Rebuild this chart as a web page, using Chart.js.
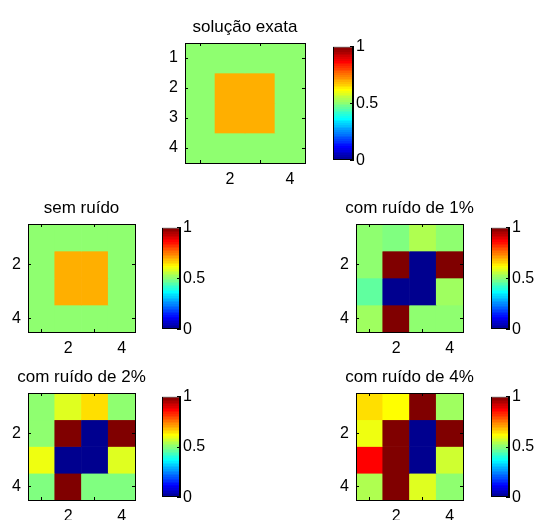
<!DOCTYPE html>
<html>
<head>
<meta charset="utf-8">
<script src="https://cdn.jsdelivr.net/npm/chart.js@4.4.1/dist/chart.umd.min.js"></script>
<style>
  html, body { margin: 0; padding: 0; background: #fff; overflow: hidden; }
  #fig { position: relative; width: 535px; height: 520px; background: #fff; }
  #fig canvas { position: absolute; }
</style>
</head>
<body>
<div id="fig"></div>
<script>
// ---- data: 4x4 conductivity maps, row 1 at the top ----
const titles = ['solução exata', 'sem ruído', 'com ruído de 1%', 'com ruído de 2%', 'com ruído de 4%'];

const solucaoExata = [
  [0.5, 0.5, 0.5, 0.5],
  [0.5, 0.7, 0.7, 0.5],
  [0.5, 0.7, 0.7, 0.5],
  [0.5, 0.5, 0.5, 0.5]
];
const semRuido = [
  [0.5, 0.5, 0.5, 0.5],
  [0.5, 0.7, 0.7, 0.5],
  [0.5, 0.7, 0.7, 0.5],
  [0.5, 0.5, 0.5, 0.5]
];
const ruido1 = [
  [0.51, 0.49, 0.54, 0.51],
  [0.51, 1.0, 0.0, 1.0],
  [0.46, 0.0, 0.0, 0.52],
  [0.53, 1.0, 0.50, 0.50]
];
const ruido2 = [
  [0.50, 0.59, 0.65, 0.50],
  [0.50, 1.0, 0.0, 1.0],
  [0.60, 0.0, 0.0, 0.58],
  [0.49, 1.0, 0.49, 0.49]
];
const ruido4 = [
  [0.65, 0.61, 1.0, 0.52],
  [0.60, 1.0, 0.0, 1.0],
  [0.87, 1.0, 0.0, 0.57],
  [0.54, 1.0, 0.58, 0.50]
];

const xTicks = [2, 4];
const yTicksTop = [1, 2, 3, 4];
const yTicks = [2, 4];
const cbTicks = [0, 0.5, 1];
const cLim = [0, 1];

// ---- jet colormap, 64 levels ----
function jetRGB(i) {
  const r = i <= 24 ? 0 : i <= 40 ? (i - 24) / 16 : i <= 56 ? 1 : 1 - (i - 56) / 16;
  const g = i <= 8 ? 0 : i <= 24 ? (i - 8) / 16 : i <= 40 ? 1 : i <= 56 ? 1 - (i - 40) / 16 : 0;
  const b = i <= 8 ? 0.5 + i / 16 : i <= 24 ? 1 : i <= 40 ? 1 - (i - 24) / 16 : 0;
  return `rgb(${Math.round(r * 255)},${Math.round(g * 255)},${Math.round(b * 255)})`;
}
function jetColor(v) {
  const t = (v - cLim[0]) / (cLim[1] - cLim[0]);
  const i = Math.max(1, Math.min(64, Math.floor(t * 64) + 1));
  return jetRGB(i);
}
function jetGradient(ctx) {
  const area = ctx.chart.chartArea;
  if (!area) return '#000';
  const g = ctx.chart.ctx.createLinearGradient(0, area.bottom, 0, area.top);
  for (let i = 1; i <= 64; i++) {
    const c = jetRGB(i);
    g.addColorStop((i - 1) / 64, c);
    g.addColorStop(i / 64, c);
  }
  return g;
}

Chart.defaults.font.family = '"Liberation Sans", Arial, Helvetica, sans-serif';
Chart.defaults.font.size = 16;
Chart.defaults.color = '#000';

const fig = document.getElementById('fig');
function addCanvas(x, y, w, h) {
  const c = document.createElement('canvas');
  c.width = w; c.height = h;
  c.style.left = x + 'px'; c.style.top = y + 'px';
  c.style.width = w + 'px'; c.style.height = h + 'px';
  fig.appendChild(c);
  return c;
}
const fixedTicks = vals => scale => { scale.ticks = vals.map(v => ({ value: v })); };
const frame = () => ({
  border: { display: true, color: '#000', width: 1, z: 1 },
  grid: { display: true, drawOnChartArea: false, drawTicks: true, tickLength: -3, color: '#000', z: 1 }
});

// image-like map: one floating bar per cell
function heatmap(grid, title, rowTicks, box) {
  const padL = 34, padR = 34, padT = 34, padB = 26;
  const cv = addCanvas(box.x - padL, box.y - padT, box.w + padL + padR, box.h + padT + padB);
  const datasets = grid.map((row, r) => ({
    data: row.map((v, c) => ({ x: c + 1, y: [r + 0.5, r + 1.5] })),
    backgroundColor: row.map(jetColor),
    borderWidth: 0
  }));
  new Chart(cv, {
    type: 'bar',
    data: { datasets },
    options: {
      responsive: false, animation: false, events: [],
      grouped: false, barPercentage: 1, categoryPercentage: 1,
      layout: { padding: 0 },
      plugins: {
        legend: { display: false }, tooltip: { enabled: false },
        title: {
          display: true, text: title, color: '#000',
          font: { size: 17, weight: 'normal', lineHeight: '18px' },
          padding: { top: 9, bottom: 7 }
        }
      },
      scales: {
        x: {
          type: 'linear', position: 'bottom', min: 0.5, max: 4.5, offset: false,
          afterBuildTicks: fixedTicks(xTicks), afterFit: s => { s.height = padB; },
          ticks: { padding: 10, callback: v => String(v) }, ...frame()
        },
        x2: {
          type: 'linear', position: 'top', min: 0.5, max: 4.5, offset: false,
          afterBuildTicks: fixedTicks(xTicks), afterFit: s => { s.height = 0; },
          ticks: { display: false }, ...frame()
        },
        y: {
          type: 'linear', position: 'left', reverse: true, min: 0.5, max: 4.5,
          afterBuildTicks: fixedTicks(rowTicks), afterFit: s => { s.width = padL; },
          ticks: { padding: 10, callback: v => String(v) }, ...frame()
        },
        y2: {
          type: 'linear', position: 'right', reverse: true, min: 0.5, max: 4.5,
          afterBuildTicks: fixedTicks(rowTicks), afterFit: s => { s.width = padR; },
          ticks: { display: false }, ...frame()
        }
      }
    }
  });
}

// colour scale bar beside each map
function colorbar(box) {
  const padL = 4, padT = 12, padB = 12, axisW = 40;
  const cv = addCanvas(box.x - padL, box.y - padT, box.w + padL + axisW, box.h + padT + padB);
  new Chart(cv, {
    type: 'bar',
    data: {
      labels: [''],
      datasets: [{
        data: [cLim], backgroundColor: jetGradient,
        borderColor: '#000', borderWidth: 1, borderSkipped: false, inflateAmount: 0
      }]
    },
    options: {
      responsive: false, animation: false, events: [],
      barPercentage: 1, categoryPercentage: 1,
      layout: { padding: { left: padL, top: padT, bottom: padB, right: 0 } },
      plugins: { legend: { display: false }, tooltip: { enabled: false } },
      scales: {
        x: { display: false },
        y: {
          position: 'right', min: cLim[0], max: cLim[1],
          afterBuildTicks: fixedTicks(cbTicks), afterFit: s => { s.width = axisW; },
          ticks: { padding: 6, callback: v => String(v) }, ...frame()
        }
      }
    }
  });
}

const panels = [
  { grid: solucaoExata, rows: yTicksTop, map: { x: 185, y: 43, w: 120, h: 120 }, cb: { x: 333, y: 43, w: 20, h: 121 } },
  { grid: semRuido, rows: yTicks, map: { x: 28, y: 224, w: 107, h: 108 }, cb: { x: 162, y: 224, w: 18, h: 109 } },
  { grid: ruido1, rows: yTicks, map: { x: 356, y: 224, w: 107, h: 108 }, cb: { x: 491, y: 224, w: 18, h: 109 } },
  { grid: ruido2, rows: yTicks, map: { x: 28, y: 393, w: 107, h: 107 }, cb: { x: 162, y: 393, w: 18, h: 108 } },
  { grid: ruido4, rows: yTicks, map: { x: 356, y: 393, w: 107, h: 107 }, cb: { x: 491, y: 393, w: 18, h: 108 } }
];
panels.forEach((p, k) => {
  heatmap(p.grid, titles[k], p.rows, p.map);
  colorbar(p.cb);
});
</script>
</body>
</html>
